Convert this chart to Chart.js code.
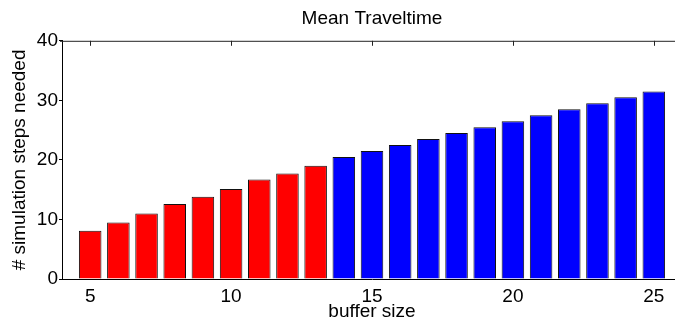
<!DOCTYPE html>
<html>
<head>
<meta charset="utf-8">
<script src="https://cdn.jsdelivr.net/npm/chart.js@4.4.1/dist/chart.umd.min.js"></script>
<style>
    html, body { margin: 0; padding: 0; background: #fff; overflow: hidden; }
    /* canvas wider than the window: the right edge of the axes is cut off like in the original */
    #wrap { width: 690px; height: 326px; }
</style>
</head>
<body>
<div id="wrap"><canvas id="chart"></canvas></div>
<script>
// --- DATA ---
const redSizes = [5, 6, 7, 8, 9, 10, 11, 12, 13];
const redSteps = [8.1, 9.5, 11.0, 12.6, 13.8, 15.1, 16.7, 17.7, 19.0];
const blueSizes = [14, 15, 16, 17, 18, 19, 20, 21, 22, 23, 24, 25];
const blueSteps = [20.5, 21.5, 22.5, 23.5, 24.5, 25.5, 26.5, 27.5, 28.5, 29.5, 30.5, 31.5];
const xTicks = [5, 10, 15, 20, 25];
const yTicks = [0, 10, 20, 30, 40];

const FONT = 'Liberation Sans, Arial, Helvetica, sans-serif';

function toPoints(xs, ys) {
    return xs.map((x, i) => ({ x: x, y: ys[i] }));
}

// top box line + inward ticks (matlab style)
const topAxis = {
    id: 'topAxis',
    afterDraw(chart) {
        const { ctx, chartArea } = chart;
        const x = chart.scales.x;
        ctx.save();
        ctx.strokeStyle = '#222';
        ctx.lineWidth = 1;
        ctx.beginPath();
        ctx.moveTo(chartArea.left - 2, chartArea.top + 0.5);
        ctx.lineTo(chartArea.right, chartArea.top + 0.5);
        xTicks.forEach(t => {
            const px = Math.round(x.getPixelForValue(t)) + 0.5;
            ctx.moveTo(px, chartArea.top);
            ctx.lineTo(px, chartArea.top + 5);
        });
        ctx.stroke();
        ctx.restore();
    }
};

new Chart(document.getElementById('chart'), {
    type: 'bar',
    data: {
        datasets: [
            { data: toPoints(redSizes, redSteps), backgroundColor: '#ff0000' },
            { data: toPoints(blueSizes, blueSteps), backgroundColor: '#0000ff' }
        ]
    },
    options: {
        responsive: true,
        maintainAspectRatio: false,
        animation: false,
        grouped: false,
        barPercentage: 0.8,
        categoryPercentage: 1,
        borderWidth: 1,
        borderColor: '#111',
        layout: { padding: { left: 0, right: 8, top: 0, bottom: 0 } },
        plugins: {
            legend: { display: false },
            tooltip: { enabled: false },
            title: {
                display: true,
                text: 'Mean Traveltime',
                fullSize: false,
                color: '#000',
                font: { family: FONT, size: 19, weight: 'normal' },
                padding: { top: 7, bottom: 11 }
            }
        },
        scales: {
            x: {
                type: 'linear',
                offset: false,
                min: 4,
                max: 26,
                afterBuildTicks: s => { s.ticks = xTicks.map(v => ({ value: v })); },
                afterFit: s => { s.height = 47; },
                grid: { display: false },
                border: { display: true, color: '#000', width: 1 },
                ticks: { color: '#000', padding: -2, font: { family: FONT, size: 19 } },
                title: {
                    display: true,
                    text: 'buffer size',
                    color: '#000',
                    font: { family: FONT, size: 19 },
                    padding: { top: 0, bottom: 3 }
                }
            },
            y: {
                min: 0,
                max: 40,
                afterBuildTicks: s => { s.ticks = yTicks.map(v => ({ value: v })); },
                afterFit: s => { s.width = 62; },
                grid: { drawOnChartArea: false, drawTicks: true, tickLength: 3, color: '#000' },
                border: { display: true, color: '#000', width: 1 },
                ticks: { color: '#000', padding: 1, font: { family: FONT, size: 19 } },
                title: {
                    display: true,
                    text: '# simulation steps needed',
                    color: '#000',
                    font: { family: FONT, size: 19 },
                    padding: { top: 8, bottom: 0 }
                }
            }
        }
    },
    plugins: [topAxis]
});
</script>
</body>
</html>
